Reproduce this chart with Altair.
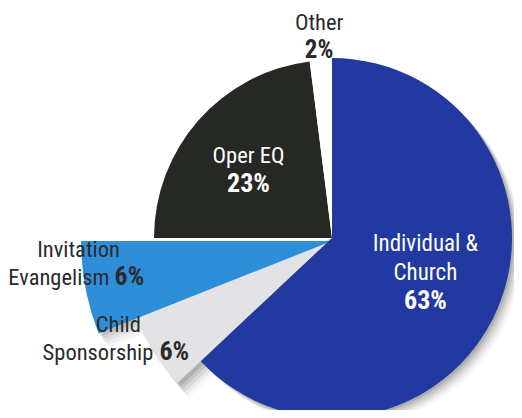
import altair as alt
import pandas as pd

# ---- data (clockwise from 12 o'clock) ----
categories = ["Individual & Church", "Child Sponsorship", "Invitation Evangelism", "Oper EQ", "Other"]
shares = [63, 6, 6, 23, 2]
name_lines = ["Individual &\nChurch", "Child", "Invitation", "Oper EQ", "Other"]
tail_words = ["", "Sponsorship", "Evangelism", "", ""]

df = pd.DataFrame({
    "category": categories,
    "share": shares,
    "name": name_lines,
    "tail": tail_words,
    "order": list(range(len(categories))),
})

# ---- styling ----
FONT = "Liberation Sans Narrow, Roboto Condensed, DejaVu Sans Condensed, Roboto, Liberation Sans"
CX, CY = 324, 230
TAU = 6.283185307179586
theta_scale = alt.Scale(domain=[0, 100], range=[0, TAU])

slice_style = {
    "Individual & Church": dict(r=180, color="#2139a0"),
    "Oper EQ": dict(r=178, color="#262824"),
    "Other": dict(r=180, color="#ffffff"),
    "Invitation Evangelism": dict(r=251, color="#2e8ed8", dy=3),
    "Child Sponsorship": dict(r=212, color="#e3e3e5"),
}

base = (
    alt.Chart(df)
    .transform_window(end="sum(share)", sort=[alt.SortField("order")], frame=[None, 0])
    .transform_calculate(
        start="datum.end - datum.share",
        mid="datum.end - datum.share / 2",
        pct="datum.share + '%'",
    )
)


def arc(cat, r, color, dx=0, dy=0, opacity=1.0):
    return (
        base.transform_filter(alt.datum.category == cat)
        .mark_arc(outerRadius=r, color=color, xOffset=dx, yOffset=dy, opacity=opacity)
        .encode(
            theta=alt.Theta("start:Q", scale=theta_scale),
            theta2="end:Q",
            x=alt.value(CX),
            y=alt.value(CY),
        )
    )


def label(cat, field, r, dx, dy, size, color, weight="normal", align="center", line_h=29):
    return (
        base.transform_filter(alt.datum.category == cat)
        .mark_text(
            dx=dx, dy=dy, fontSize=size, fontWeight=weight, color=color,
            align=align, baseline="alphabetic", font=FONT,
            lineBreak="\n", lineHeight=line_h,
        )
        .encode(
            theta=alt.Theta("mid:Q", scale=theta_scale),
            radius=alt.value(r),
            x=alt.value(CX),
            y=alt.value(CY),
            text=alt.Text(f"{field}:N"),
        )
    )


layers = []
# soft drop shadows
for k, op in [(1, 0.11), (2, 0.09), (3, 0.07), (4, 0.05), (5, 0.03)]:
    layers.append(arc("Child Sponsorship", 212, "#000000", dx=2 * k + 1, dy=3 * k, opacity=op))
    layers.append(arc("Invitation Evangelism", 251, "#000000", dx=2 * k, dy=3 + 3 * k, opacity=op * 0.8))
    layers.append(arc("Individual & Church", 180, "#000000", dx=2 * k, dy=2 * k, opacity=op))

for cat in ["Child Sponsorship", "Invitation Evangelism", "Oper EQ", "Other", "Individual & Church"]:
    s = slice_style[cat]
    layers.append(arc(cat, s["r"], s["color"], dy=s.get("dy", 0)))

DARK = "#2b2b2b"
WHITE = "#ffffff"
NAME = 22.5
PCT = 26
# Individual & Church
layers.append(label("Individual & Church", "name", 92, 9, -24, 23, WHITE))
layers.append(label("Individual & Church", "pct", 92, 9, 34, PCT, WHITE, weight="bold"))
# Oper EQ
layers.append(label("Oper EQ", "name", 110, -1, -2, NAME, WHITE))
layers.append(label("Oper EQ", "pct", 110, -1, 27, PCT, WHITE, weight="bold"))
# Other
layers.append(label("Other", "name", 205, 0, -3, NAME, DARK))
layers.append(label("Other", "pct", 205, 0, 25, 25, DARK, weight="bold"))
# Invitation Evangelism
layers.append(label("Invitation Evangelism", "name", 255, -3, -29, NAME, DARK))
layers.append(label("Invitation Evangelism", "tail", 255, 28, -1, NAME, DARK, align="right"))
layers.append(label("Invitation Evangelism", "pct", 255, 33, -1, PCT, DARK, weight="bold", align="left"))
# Child Sponsorship
layers.append(label("Child Sponsorship", "name", 253, 0, -42, NAME, DARK))
layers.append(label("Child Sponsorship", "tail", 253, 35, -14, NAME, DARK, align="right"))
layers.append(label("Child Sponsorship", "pct", 253, 41, -14, PCT, DARK, weight="bold", align="left"))

chart = (
    alt.layer(*layers)
    .properties(width=506, height=402, padding=0, autosize=alt.AutoSizeParams(type="none"),
                background="#ffffff")
    .configure_view(stroke=None)
)

chart.save("out.html", embed_options={"renderer": "svg", "actions": False})
